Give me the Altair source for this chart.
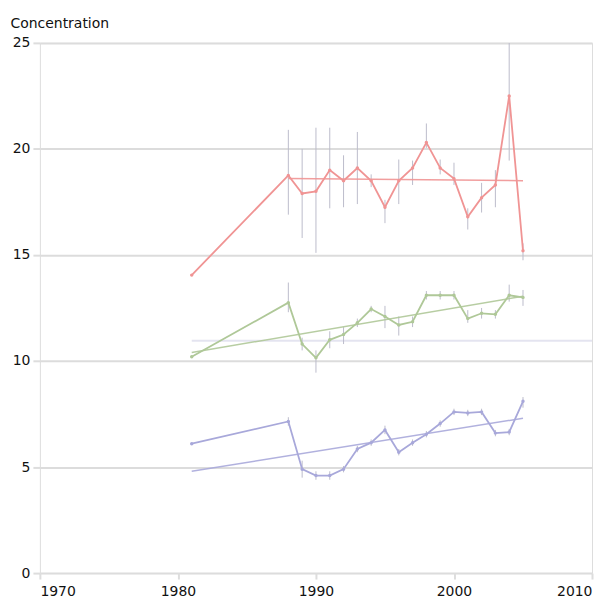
import altair as alt
import pandas as pd

years = [1981, 1988, 1989, 1990, 1991, 1992, 1993, 1994, 1995, 1996, 1997,
         1998, 1999, 2000, 2001, 2002, 2003, 2004, 2005]
red_values = [14.05, 18.75, 17.9, 18.0, 19.0, 18.5, 19.1, 18.5, 17.25, 18.5, 19.1,
              20.3, 19.1, 18.6, 16.8, 17.7, 18.3, 22.5, 15.2]
green_values = [10.2, 12.75, 10.8, 10.15, 11.0, 11.25, 11.8, 12.45, 12.1, 11.7, 11.85,
                13.1, 13.1, 13.1, 12.0, 12.25, 12.2, 13.1, 13.0]
blue_values = [6.1, 7.15, 4.9, 4.6, 4.6, 4.9, 5.85, 6.15, 6.75, 5.7, 6.15,
               6.55, 7.05, 7.6, 7.55, 7.6, 6.6, 6.65, 8.1]

red_low = [None, 16.9, 15.8, 15.1, 17.2, 17.25, 17.4, 18.2, 16.5, 17.4, 18.3,
           20.05, 18.8, 18.3, 16.2, 17.0, 17.25, 19.45, 14.75]
red_high = [None, 20.9, 20.0, 21.0, 21.0, 19.7, 20.8, 18.8, 17.6, 19.5, 19.45,
            21.2, 19.5, 19.35, 17.2, 18.4, 19.0, 26.0, 15.55]
green_low = [None, 12.3, 10.5, 9.45, 10.6, 10.8, 11.6, 12.3, 11.55, 11.2, 11.6,
             12.9, 12.9, 12.9, 11.8, 12.0, 12.0, 12.8, 12.6]
green_high = [None, 13.7, 11.1, 10.5, 11.4, 11.6, 12.0, 12.6, 12.6, 12.1, 12.1,
              13.3, 13.3, 13.3, 12.4, 12.5, 12.4, 13.6, 13.35]
blue_low = [None, 6.95, 4.5, 4.4, 4.4, 4.75, 5.7, 6.0, 6.55, 5.55, 6.0,
            6.4, 6.9, 7.45, 7.4, 7.45, 6.45, 6.5, 7.8]
blue_high = [None, 7.35, 5.3, 4.8, 4.8, 5.05, 6.0, 6.3, 6.95, 5.85, 6.3,
             6.7, 7.2, 7.75, 7.7, 7.75, 6.75, 6.8, 8.3]

series_names = ["Red", "Green", "Blue"]
series_colors = ["#f09494", "#afc898", "#a8a8da"]

trend_series = ["Red", "Red", "Green", "Green", "Blue", "Blue"]
trend_years = [1988, 2005, 1981, 2005, 1981, 2005]
trend_values = [18.6, 18.5, 10.4, 13.05, 4.8, 7.3]

limit_years = [1981, 2010]
limit_values = [10.95, 10.95]

y_ticks = [0, 5, 10, 15, 20, 25]
x_ticks = [1970, 1980, 1990, 2000, 2010]

rows = []
for name, vals, lo, hi in [("Red", red_values, red_low, red_high),
                           ("Green", green_values, green_low, green_high),
                           ("Blue", blue_values, blue_low, blue_high)]:
    for y, v, l, h in zip(years, vals, lo, hi):
        rows.append({"year": y, "value": v, "low": l, "high": h, "series": name})
df = pd.DataFrame(rows)
trend_df = pd.DataFrame({"year": trend_years, "value": trend_values, "series": trend_series})
limit_df = pd.DataFrame({"year": limit_years, "value": limit_values})

xs = alt.Scale(domain=[1970, 2010], nice=False, zero=False)
ys = alt.Scale(domain=[0, 25], nice=False, zero=True)
cs = alt.Scale(domain=series_names, range=series_colors)

x_enc = alt.X("year:Q", scale=xs, axis=alt.Axis(
    values=x_ticks, format="d", title=None, grid=False, domain=False,
    labelFlush=True, tickColor="#dddddd", tickSize=6, tickWidth=2,
    labelPadding=6, labelFont="DejaVu Sans", labelFontSize=14, labelColor="#111111"))
y_enc = alt.Y("value:Q", scale=ys, axis=alt.Axis(
    values=y_ticks, title="Concentration", titleAngle=0, titleAlign="left",
    titleBaseline="alphabetic", titleX=-30, titleY=-15, titleFont="DejaVu Sans",
    titleFontSize=14, titleFontWeight="normal", titleColor="#111111",
    grid=True, gridColor="#dcdcdc", gridWidth=2, domain=False,
    tickColor="#dddddd", tickSize=7, tickWidth=2, labelPadding=3,
    labelFont="DejaVu Sans", labelFontSize=14, labelColor="#111111"))

limit = alt.Chart(limit_df).mark_line(color="#e4e4f0", strokeWidth=2).encode(
    x=x_enc, y=y_enc)

errs = alt.Chart(df).transform_filter("datum.low != null").mark_rule(
    color="#bcbccb", strokeWidth=1, clip=True).encode(
    x="year:Q", y="low:Q", y2="high:Q")

trends = alt.Chart(trend_df).mark_line(strokeWidth=1.5, opacity=0.9).encode(
    x="year:Q", y="value:Q",
    color=alt.Color("series:N", scale=cs, legend=None), detail="series:N")

lines = alt.Chart(df).mark_line(strokeWidth=1.8).encode(
    x="year:Q", y="value:Q",
    color=alt.Color("series:N", scale=cs, legend=None), detail="series:N")

points = alt.Chart(df).mark_circle(size=12, opacity=1).encode(
    x="year:Q", y="value:Q",
    color=alt.Color("series:N", scale=cs, legend=None))

chart = alt.layer(limit, errs, trends, lines, points).properties(
    width=554, height=532,
    autosize=alt.AutoSizeParams(type="none"),
    padding={"left": 32, "top": 34, "right": 2, "bottom": 24},
).configure_view(stroke="#e6e6e6", strokeWidth=2).configure(background="white")

chart.save("out.html", embed_options={"renderer": "svg", "actions": False})
